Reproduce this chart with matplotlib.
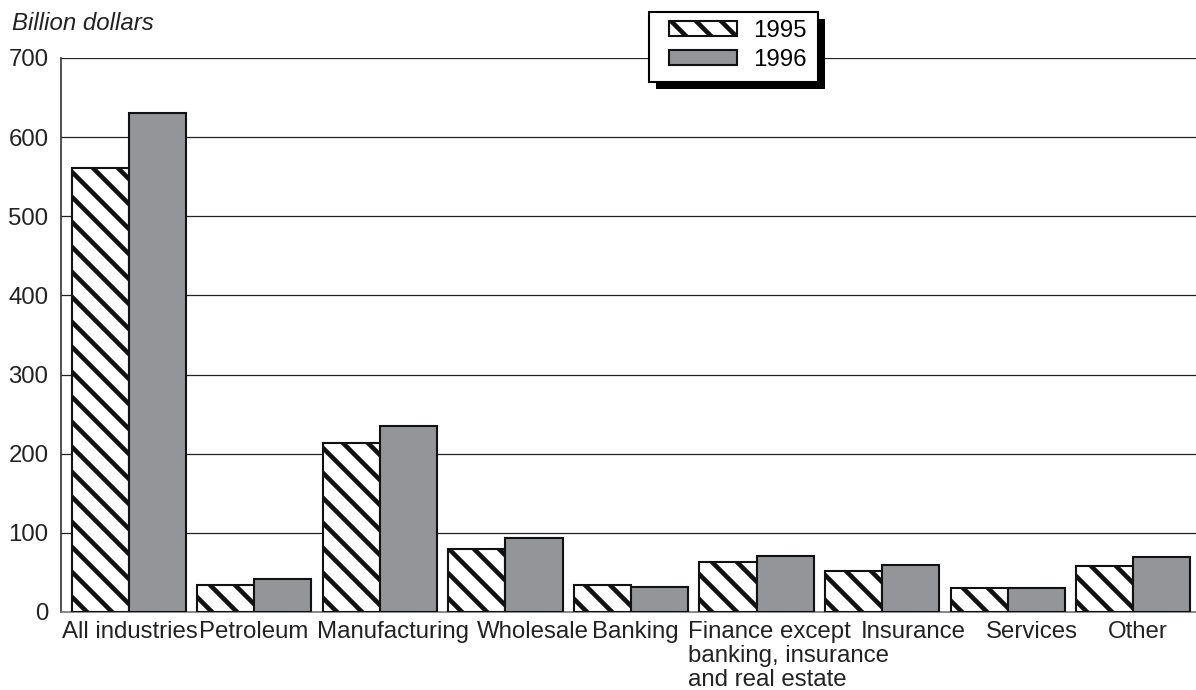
import numpy as np
import matplotlib
matplotlib.use('Agg')
import matplotlib.pyplot as plt
from matplotlib.patches import Rectangle
from matplotlib.transforms import IdentityTransform

plt.rcParams['font.family'] = ['Liberation Sans', 'DejaVu Sans']
plt.rcParams['hatch.linewidth'] = 2.2

# data
categories = ['All industries', 'Petroleum', 'Manufacturing', 'Wholesale', 'Banking',
              'Finance except\nbanking, insurance\nand real estate', 'Insurance', 'Services', 'Other']
v1995 = [561, 34, 214, 80, 34, 63, 52, 30, 58]
v1996 = [631, 42, 235, 94, 32, 71, 59, 30, 70]
yticks = [0, 100, 200, 300, 400, 500, 600, 700]

# left edge of each category label, relative to its group centre (the original is hand placed)
label_shift = [-0.532, -0.441, -0.501, -0.227, -0.311, -0.546, -0.168, -0.173, -0.201]

fig = plt.figure(figsize=(1196/150, 690/150), dpi=150)
ax = fig.add_axes([61/1196, 78/690, 1 - 61/1196, (612-58)/690])

x = np.arange(len(categories))
w = 0.455
ax.bar(x - w/2, v1995, w, color='white', edgecolor='#111111', hatch='\\\\', linewidth=1.0,
       label='1995', zorder=3)
ax.bar(x + w/2, v1996, w, color='#939598', edgecolor='#111111', linewidth=1.0,
       label='1996', zorder=3)

ax.set_xlim(-0.54, 8.5)
ax.set_ylim(0, 700)
ax.set_yticks(yticks)
ax.set_xticks([])
for i, lab in enumerate(categories):
    ax.text(i + label_shift[i], -0.017, lab, transform=ax.get_xaxis_transform(),
            ha='left', va='top', fontsize=11.5, color='#222222', linespacing=1.1)
ax.tick_params(axis='both', length=0, labelsize=11.5, colors='#222222')
ax.tick_params(axis='y', pad=6)
ax.yaxis.grid(True, color='#222222', linewidth=0.6, zorder=0)
ax.set_axisbelow(True)
for s in ['top', 'right']:
    ax.spines[s].set_visible(False)
ax.spines['left'].set_color('#333333')
ax.spines['left'].set_linewidth(0.8)
ax.spines['bottom'].set_color('#777777')
ax.spines['bottom'].set_linewidth(0.8)

fig.text(12/1196, 1 - 23/690, 'Billion dollars', fontsize=11.5, style='italic',
         va='center', ha='left', color='#222222')

# legend without its own frame; the box and drop shadow are drawn round it below
leg = ax.legend(loc='upper left', bbox_to_anchor=(669/1196, 1 - 20/690),
                bbox_transform=fig.transFigure, fontsize=11.5, frameon=False,
                handlelength=2.85, handleheight=0.6, borderaxespad=0, borderpad=0,
                handletextpad=0.65, labelspacing=0.3)
leg.set_zorder(11)

fig.canvas.draw()
bb = leg.get_window_extent()
x0, x1 = bb.x0 - 20, bb.x1 + 12
y0, y1 = bb.y0 - 11, bb.y1 + 8
ax.add_patch(Rectangle((x0 + 7, y0 - 7), x1 - x0, y1 - y0, transform=IdentityTransform(),
                       facecolor='black', edgecolor='none', zorder=9, clip_on=False))
ax.add_patch(Rectangle((x0, y0), x1 - x0, y1 - y0, transform=IdentityTransform(),
                       facecolor='white', edgecolor='black', linewidth=1.0, zorder=10,
                       clip_on=False))

fig.savefig('out.png', dpi=150)
